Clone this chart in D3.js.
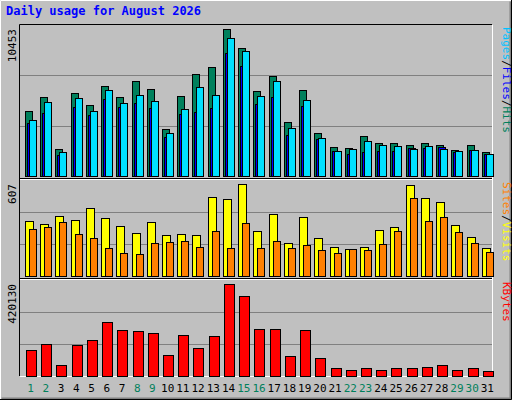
<!DOCTYPE html><html><head><script src="https://cdn.jsdelivr.net/npm/d3@7"></script>
<style>body{margin:0;background:#fff}</style></head><body><script>
const days=d3.range(1,32);
const weekend=[1,2,8,9,15,16,22,23,29,30];
const hits=[4657,5626,1938,5910,5059,6406,5626,6761,6194,3357,5697,7257,7754,10453,9101,6052,7116,3853,6123,3073,2080,2009,2860,2364,2364,2222,2364,2222,1868,2222,1726];
const files=[3782,4492,1513,4917,4350,5484,4917,5201,4846,2790,4421,4563,4846,8747,7825,5130,5626,2931,4988,2648,1797,1584,1726,1797,1797,2009,2009,2080,1726,1868,1584];
const pages=[3995,5272,1726,5555,4633,6123,5201,5768,5343,3073,4775,6336,5768,9811,8889,5697,6761,3428,5414,2719,1797,1938,2506,2222,2151,1938,2151,1938,1797,1868,1584];
const visits=[363,343,396,370,449,383,330,284,356,271,277,271,521,508,607,297,409,218,389,251,191,178,191,304,323,601,515,488,337,257,185];
const sites=[310,323,356,277,251,185,152,145,218,224,231,191,297,185,350,185,231,185,205,172,152,176,172,211,297,515,363,389,290,218,158];
const kbytes=[116531,144130,52132,139530,162530,245330,208530,203930,194730,98130,185530,125730,180930,420130,364930,213130,213130,93530,208530,84330,38330,29130,38330,29130,38330,38330,42930,52130,29130,38330,24530];
const title="Daily usage for August 2026";

const W=512,H=400,X0=20,X1=492,slot=(X1-X0)/31;
const svg=d3.select("body").append("svg").attr("width",W).attr("height",H).style("font-family","'DejaVu Sans Mono',monospace");
svg.append("rect").attr("width",W).attr("height",H).attr("fill","#c0c0c0");
// outer bevel
svg.append("path").attr("d",`M0.5,${H-0.5}V0.5H${W-0.5}`).attr("stroke","#fff").attr("fill","none");
svg.append("path").attr("d",`M1.5,${H-1.5}H${W-1.5}V1.5`).attr("stroke","#808080").attr("stroke-width",2).attr("fill","none");
svg.append("path").attr("d",`M0,${H-0.5}H${W-0.5}V0`).attr("stroke","#000").attr("fill","none");
svg.append("text").attr("x",6).attr("y",15).attr("fill","#0000ff").attr("font-weight","bold").attr("font-size",12).text(title);
// inner frame
svg.append("rect").attr("x",X0).attr("y",25).attr("width",X1-X0).attr("height",351).attr("fill","#c0c0c0");
svg.append("path").attr("d",`M${X0-0.5},376V24.5H${X1}`).attr("stroke","#000").attr("fill","none");
svg.append("path").attr("d",`M${X0},376.5H${X1+0.5}V25`).attr("stroke","#fff").attr("fill","none");
const x=d3.scaleBand().domain(days).range([X0,X1]);
function panel(top,bot,max,label,series,legend){
  const y=d3.scaleLinear().domain([0,max]).range([bot,top+4]);
  [1/3,2/3].forEach(f=>{const yy=Math.round(bot-(bot-top)*f)+0.5;
    svg.append("line").attr("x1",X0).attr("x2",X1).attr("y1",yy).attr("y2",yy).attr("stroke","#808080");});
  series.forEach(s=>{
    svg.append("g").selectAll("rect").data(s.data).join("rect")
      .attr("x",(d,i)=>Math.round(x(days[i]))+s.off+0.5).attr("width",s.w)
      .attr("y",d=>Math.round(y(d))+0.5).attr("height",d=>bot-Math.round(y(d)))
      .attr("fill",s.color).attr("stroke","#000");
  });
  const ly=top+4;
  svg.append("text").attr("transform",`translate(16,${ly}) rotate(-90)`).attr("text-anchor","end").attr("font-size",11).attr("fill","#000").text(label);
  const t=svg.append("text").attr("transform",`translate(503,${top+2}) rotate(90)`).attr("font-size",11).attr("text-anchor","start");
  legend.forEach((l,i)=>{ if(i) t.append("tspan").attr("fill","#000").text("/"); t.append("tspan").attr("fill",l[1]).text(l[0]);});
}
panel(25,176,d3.max(hits),"10453",[
 {data:hits,color:"#00805c",off:5,w:7},{data:files,color:"#0000ff",off:7,w:7},{data:pages,color:"#00e0ff",off:9,w:7}],
 [["Hits","#00805c"],["Files","#0000ff"],["Pages","#00c0ff"]].reverse());
svg.append("line").attr("x1",X0).attr("x2",X1).attr("y1",178.5).attr("y2",178.5).attr("stroke","#000");
svg.append("line").attr("x1",X0).attr("x2",X1).attr("y1",179.5).attr("y2",179.5).attr("stroke","#fff");
panel(180,276,d3.max(visits),"607",[
 {data:visits,color:"#ffff00",off:5,w:8},{data:sites,color:"#ff8000",off:9,w:7}],
 [["Sites","#ff8000"],["Visits","#ffff00"]]);
svg.append("line").attr("x1",X0).attr("x2",X1).attr("y1",278.5).attr("y2",278.5).attr("stroke","#000");
svg.append("line").attr("x1",X0).attr("x2",X1).attr("y1",279.5).attr("y2",279.5).attr("stroke","#fff");
panel(280,376,d3.max(kbytes),"420130",[{data:kbytes,color:"#ff0000",off:6,w:10}],[["KBytes","#ff0000"]]);
svg.append("g").selectAll("text").data(days).join("text")
 .attr("x",d=>x(d)+x.bandwidth()/2+3).attr("y",392).attr("text-anchor","middle").attr("font-size",11)
 .attr("fill",d=>weekend.includes(d)?"#00805c":"#000").text(d=>d);
</script></body></html>
